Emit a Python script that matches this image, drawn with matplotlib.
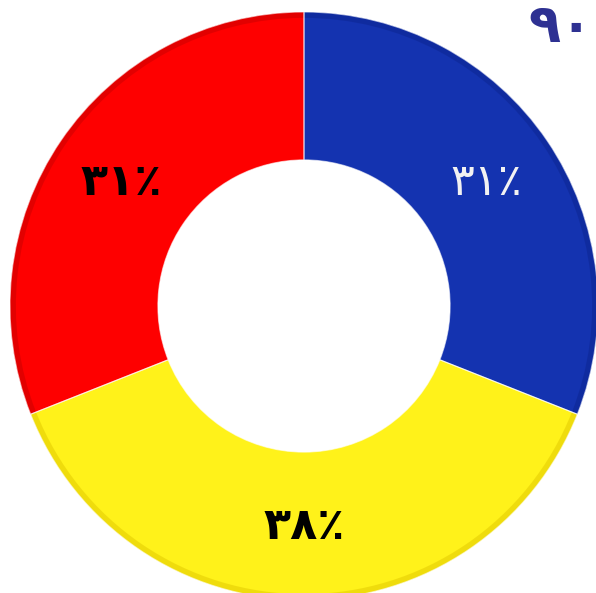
import matplotlib
matplotlib.use("Agg")
import matplotlib.pyplot as plt
import numpy as np

shares = [31, 38, 31]
slice_colors = ["#1433b0", "#fff21a", "#fe0000"]
rim_colors = ["#0c2490", "#e0c800", "#c80000"]
labels = ["\u06f3\u06f1\u066a", "\u06f3\u06f8\u066a", "\u06f3\u06f1\u066a"]
label_colors = ["#f2f2f2", "black", "black"]
label_weights = ["normal", "bold", "bold"]
corner_text = "\u06f9\u06f0"

fig = plt.figure(figsize=(5.96, 5.93), dpi=100)
# center (304, 306) px, outer radius 294 px
ax = fig.add_axes([(304 - 294) / 596, (593 - 306 - 294) / 593, 588 / 596, 588 / 593])

wedges, _ = ax.pie(shares, colors=slice_colors, startangle=90, counterclock=False,
                   radius=1, wedgeprops=dict(width=0.503, edgecolor="none"))

# soft darker rim to suggest the bevel
ax.pie(shares, colors=rim_colors, startangle=90, counterclock=False,
       radius=1, wedgeprops=dict(width=0.02, edgecolor="none", alpha=0.5))
# thin light seams between slices
ax.pie(shares, colors=["none"] * 3, startangle=90, counterclock=False,
       radius=1, wedgeprops=dict(width=0.503, edgecolor="white", linewidth=0.8, alpha=0.6))

ax.set_xlim(-1, 1)
ax.set_ylim(-1, 1)
ax.set_aspect("equal")
ax.axis("off")

label_r = 0.75
for w, lab, c, fw in zip(wedges, labels, label_colors, label_weights):
    mid = np.deg2rad((w.theta1 + w.theta2) / 2)
    ax.text(label_r * np.cos(mid), label_r * np.sin(mid), lab, color=c,
            fontsize=32, fontweight=fw, ha="center", va="center", family="DejaVu Sans")

fig.text(0.94, 0.955, corner_text, color="#2e3192", fontsize=38, fontweight="bold",
         ha="center", va="center", family="DejaVu Sans")

fig.savefig("out.png", dpi=100)
